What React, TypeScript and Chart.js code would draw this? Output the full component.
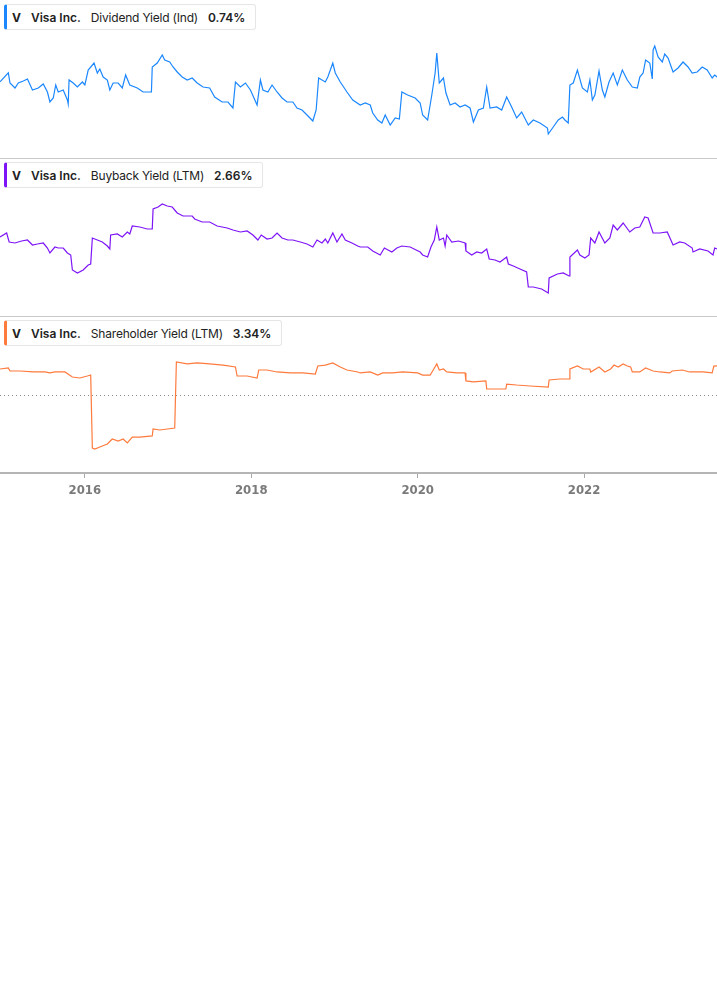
import React, { useEffect, useRef } from 'react';
import { Chart, registerables } from 'chart.js';

Chart.register(...registerables);

const X_MIN = 2014.98;
const X_MAX = 2023.598;
const tickYears = [2016, 2018, 2020, 2022];

const companyTicker = 'V';
const companyName = 'Visa Inc.';

// Dividend Yield (Ind), %
const divDates = [
  2014.98, 2015.08, 2015.10, 2015.16, 2015.20, 2015.26, 2015.31, 2015.37, 2015.44, 2015.50,
  2015.55, 2015.58, 2015.62, 2015.65, 2015.68, 2015.74, 2015.79, 2015.80, 2015.81, 2015.86,
  2015.91, 2015.97, 2016.00, 2016.04, 2016.11, 2016.15, 2016.18, 2016.22, 2016.27, 2016.30,
  2016.34, 2016.40, 2016.45, 2016.49, 2016.54, 2016.63, 2016.70, 2016.80, 2016.81, 2016.87,
  2016.93, 2016.96, 2017.02, 2017.06, 2017.11, 2017.17, 2017.23, 2017.29, 2017.35, 2017.42,
  2017.50, 2017.56, 2017.65, 2017.72, 2017.78, 2017.81, 2017.87, 2017.93, 2017.99, 2018.07,
  2018.11, 2018.14, 2018.20, 2018.25, 2018.31, 2018.37, 2018.43, 2018.50, 2018.55, 2018.61,
  2018.67, 2018.74, 2018.78, 2018.81, 2018.89, 2018.92, 2018.98, 2019.01, 2019.07, 2019.15,
  2019.22, 2019.31, 2019.37, 2019.43, 2019.46, 2019.52, 2019.57, 2019.61, 2019.67, 2019.73,
  2019.78, 2019.81, 2019.88, 2019.97, 2020.03, 2020.06, 2020.12, 2020.17, 2020.21, 2020.23,
  2020.26, 2020.31, 2020.34, 2020.39, 2020.45, 2020.51, 2020.57, 2020.63, 2020.67, 2020.73,
  2020.79, 2020.83, 2020.87, 2020.95, 2021.01, 2021.07, 2021.13, 2021.19, 2021.25, 2021.33,
  2021.39, 2021.47, 2021.56, 2021.57, 2021.63, 2021.69, 2021.74, 2021.77, 2021.81, 2021.83,
  2021.87, 2021.92, 2021.98, 2022.04, 2022.07, 2022.10, 2022.13, 2022.18, 2022.22, 2022.25,
  2022.30, 2022.35, 2022.40, 2022.46, 2022.52, 2022.58, 2022.64, 2022.67, 2022.71, 2022.74,
  2022.79, 2022.82, 2022.83, 2022.85, 2022.89, 2022.94, 2022.97, 2023.01, 2023.07, 2023.13,
  2023.19, 2023.25, 2023.30, 2023.36, 2023.42, 2023.48, 2023.54, 2023.57, 2023.60,
];
const divValues = [
  0.716, 0.761, 0.710, 0.685, 0.710, 0.720, 0.730, 0.675, 0.685, 0.705,
  0.665, 0.615, 0.635, 0.700, 0.665, 0.675, 0.625, 0.605, 0.725, 0.710,
  0.690, 0.715, 0.700, 0.775, 0.810, 0.760, 0.780, 0.740, 0.725, 0.675,
  0.710, 0.710, 0.685, 0.750, 0.700, 0.685, 0.665, 0.665, 0.790, 0.810,
  0.850, 0.825, 0.815, 0.790, 0.765, 0.740, 0.725, 0.735, 0.710, 0.690,
  0.685, 0.640, 0.615, 0.615, 0.585, 0.715, 0.690, 0.710, 0.675, 0.600,
  0.725, 0.675, 0.665, 0.700, 0.665, 0.635, 0.615, 0.615, 0.585, 0.575,
  0.550, 0.520, 0.575, 0.735, 0.715, 0.740, 0.810, 0.760, 0.715, 0.665,
  0.625, 0.600, 0.610, 0.600, 0.560, 0.525, 0.510, 0.550, 0.500, 0.535,
  0.530, 0.665, 0.650, 0.635, 0.610, 0.550, 0.525, 0.650, 0.760, 0.860,
  0.710, 0.735, 0.660, 0.600, 0.610, 0.590, 0.600, 0.585, 0.515, 0.575,
  0.585, 0.690, 0.585, 0.590, 0.575, 0.640, 0.590, 0.535, 0.565, 0.500,
  0.525, 0.510, 0.485, 0.455, 0.490, 0.525, 0.540, 0.525, 0.510, 0.700,
  0.710, 0.775, 0.685, 0.665, 0.725, 0.625, 0.650, 0.770, 0.675, 0.640,
  0.715, 0.760, 0.700, 0.775, 0.725, 0.690, 0.685, 0.740, 0.760, 0.825,
  0.810, 0.730, 0.875, 0.895, 0.840, 0.815, 0.855, 0.835, 0.765, 0.785,
  0.815, 0.790, 0.760, 0.765, 0.790, 0.775, 0.735, 0.750, 0.740,
];

// Buyback Yield (LTM), %
const buyDates = [
  2014.98, 2015.06, 2015.09, 2015.16, 2015.24, 2015.31, 2015.37, 2015.43, 2015.50, 2015.55,
  2015.58, 2015.64, 2015.68, 2015.74, 2015.79, 2015.83, 2015.85, 2015.91, 2015.98, 2016.04,
  2016.07, 2016.09, 2016.15, 2016.21, 2016.27, 2016.30, 2016.31, 2016.39, 2016.45, 2016.51,
  2016.54, 2016.57, 2016.66, 2016.75, 2016.81, 2016.82, 2016.88, 2016.93, 2016.99, 2017.05,
  2017.11, 2017.18, 2017.29, 2017.32, 2017.41, 2017.50, 2017.59, 2017.71, 2017.78, 2017.87,
  2017.95, 2018.02, 2018.08, 2018.12, 2018.19, 2018.25, 2018.31, 2018.37, 2018.44, 2018.50,
  2018.59, 2018.67, 2018.74, 2018.79, 2018.85, 2018.89, 2018.92, 2018.98, 2019.03, 2019.09,
  2019.13, 2019.21, 2019.28, 2019.31, 2019.40, 2019.46, 2019.55, 2019.60, 2019.69, 2019.75,
  2019.81, 2019.91, 2020.03, 2020.06, 2020.12, 2020.16, 2020.20, 2020.23, 2020.26, 2020.31,
  2020.33, 2020.35, 2020.41, 2020.49, 2020.57, 2020.58, 2020.65, 2020.71, 2020.77, 2020.83,
  2020.86, 2020.93, 2020.99, 2021.07, 2021.09, 2021.15, 2021.23, 2021.31, 2021.33, 2021.39,
  2021.49, 2021.57, 2021.58, 2021.68, 2021.75, 2021.82, 2021.83, 2021.92, 2021.95, 2022.01,
  2022.06, 2022.08, 2022.13, 2022.18, 2022.25, 2022.31, 2022.35, 2022.40, 2022.47, 2022.55,
  2022.61, 2022.67, 2022.73, 2022.77, 2022.83, 2022.91, 2023.00, 2023.07, 2023.15, 2023.21,
  2023.30, 2023.31, 2023.39, 2023.49, 2023.55, 2023.57, 2023.60,
];
const buyValues = [
  3.02, 3.14, 2.87, 2.84, 2.90, 2.93, 2.78, 2.81, 2.84, 2.69,
  2.54, 2.72, 2.69, 2.69, 2.54, 2.48, 2.03, 1.94, 2.03, 2.18,
  2.21, 2.99, 2.93, 2.87, 2.75, 2.66, 3.08, 3.11, 3.02, 3.17,
  3.11, 3.35, 3.32, 3.26, 3.26, 3.86, 3.92, 4.01, 3.95, 3.92,
  3.74, 3.65, 3.65, 3.56, 3.47, 3.47, 3.35, 3.29, 3.23, 3.17,
  3.20, 3.08, 2.93, 3.08, 2.96, 2.99, 3.14, 2.99, 2.93, 2.93,
  2.87, 2.81, 2.72, 2.93, 2.84, 2.96, 2.84, 3.14, 2.87, 3.11,
  2.93, 2.84, 2.75, 2.72, 2.72, 2.60, 2.48, 2.69, 2.57, 2.69,
  2.75, 2.72, 2.57, 2.48, 2.42, 2.72, 2.93, 3.32, 2.93, 2.99,
  2.75, 3.08, 2.87, 2.90, 2.84, 2.60, 2.48, 2.57, 2.54, 2.66,
  2.36, 2.33, 2.27, 2.42, 2.21, 2.15, 2.06, 1.97, 1.52, 1.52,
  1.46, 1.34, 1.79, 1.91, 1.94, 1.85, 2.42, 2.63, 2.48, 2.39,
  2.48, 2.99, 2.84, 3.17, 2.84, 2.99, 3.38, 3.23, 3.44, 3.17,
  3.29, 3.32, 3.62, 3.59, 3.14, 3.14, 3.17, 2.78, 2.87, 2.84,
  2.69, 2.57, 2.66, 2.60, 2.48, 2.69, 2.66,
];

// Shareholder Yield (LTM), %
const shDates = [
  2014.98, 2015.08, 2015.10, 2015.22, 2015.38, 2015.52, 2015.58, 2015.64, 2015.76, 2015.85,
  2015.94, 2016.03, 2016.07, 2016.09, 2016.12, 2016.18, 2016.27, 2016.33, 2016.40, 2016.46,
  2016.51, 2016.57, 2016.66, 2016.81, 2016.82, 2016.90, 2016.99, 2017.08, 2017.10, 2017.23,
  2017.35, 2017.50, 2017.66, 2017.81, 2017.83, 2017.95, 2018.07, 2018.09, 2018.19, 2018.31,
  2018.47, 2018.62, 2018.77, 2018.80, 2018.89, 2018.98, 2019.07, 2019.15, 2019.28, 2019.31,
  2019.43, 2019.52, 2019.58, 2019.70, 2019.82, 2020.00, 2020.06, 2020.15, 2020.18, 2020.23,
  2020.26, 2020.31, 2020.35, 2020.47, 2020.57, 2020.58, 2020.67, 2020.82, 2020.83, 2020.99,
  2021.06, 2021.07, 2021.19, 2021.35, 2021.57, 2021.58, 2021.71, 2021.82, 2021.83, 2021.92,
  2021.99, 2022.07, 2022.08, 2022.18, 2022.25, 2022.32, 2022.36, 2022.41, 2022.47, 2022.52,
  2022.56, 2022.58, 2022.67, 2022.74, 2022.83, 2022.91, 2023.03, 2023.06, 2023.18, 2023.27,
  2023.43, 2023.54, 2023.56, 2023.60,
];
const shValues = [
  3.00, 3.11, 2.78, 2.78, 2.67, 2.67, 2.56, 2.67, 2.67, 2.11,
  2.00, 2.22, 2.33, -5.78, -5.89, -5.67, -5.33, -4.78, -5.00, -4.78,
  -5.22, -4.56, -4.56, -4.44, -3.67, -3.78, -3.67, -3.56, 3.78, 3.56,
  3.67, 3.56, 3.44, 3.22, 2.22, 2.22, 2.00, 2.89, 2.89, 2.67,
  2.56, 2.56, 2.44, 3.33, 3.44, 3.67, 3.22, 2.89, 2.67, 2.56,
  2.67, 2.33, 2.56, 2.56, 2.67, 2.56, 2.33, 2.33, 2.78, 3.56,
  2.89, 3.00, 2.67, 2.56, 2.56, 1.67, 1.56, 1.67, 0.78, 0.78,
  0.78, 1.33, 1.22, 1.11, 1.00, 1.78, 1.89, 1.89, 3.00, 3.33,
  3.00, 3.00, 2.67, 3.22, 2.67, 3.00, 3.44, 3.22, 3.56, 3.33,
  3.22, 2.67, 2.67, 3.11, 2.78, 2.67, 2.56, 2.78, 2.89, 2.67,
  2.67, 2.56, 3.33, 3.34,
];

const panels = [
  { metric: 'Dividend Yield (Ind)', value: '0.74%', color: '#1a87ff', dates: divDates, values: divValues, top: 0, yMin: 0.335, yMax: 1.125, zero: false, xAxis: false },
  { metric: 'Buyback Yield (LTM)', value: '2.66%', color: '#7d14f7', dates: buyDates, values: buyValues, top: 158, yMin: 0.65, yMax: 5.39, zero: false, xAxis: false },
  { metric: 'Shareholder Yield (LTM)', value: '3.34%', color: '#ff7a3d', dates: shDates, values: shValues, top: 316, yMin: -8.556, yMax: 8.889, zero: true, xAxis: true },
];

const PLOT_H = [158, 158, 157];
const AXIS_H = 36;

function Panel({ p, idx }: { p: any; idx: number }) {
  const ref = useRef<HTMLCanvasElement | null>(null);
  const h = PLOT_H[idx] + (p.xAxis ? AXIS_H : 0);
  useEffect(() => {
    if (!ref.current) return;
    const xScale: any = {
      type: 'linear',
      min: X_MIN,
      max: X_MAX,
      display: p.xAxis,
    };
    if (p.xAxis) {
      Object.assign(xScale, {
        afterBuildTicks: (s: any) => {
          s.ticks = tickYears.map((v) => ({ value: v }));
        },
        afterFit: (s: any) => {
          s.height = AXIS_H;
        },
        border: { display: true, color: '#b5b5b5', width: 2 },
        grid: { drawOnChartArea: false, drawTicks: true, tickLength: 5, color: '#a8a8a8' },
        ticks: {
          autoSkip: false,
          maxRotation: 0,
          padding: 5,
          color: '#7a7a7a',
          font: { family: "'DejaVu Sans Condensed', 'DejaVu Sans', sans-serif", size: 13, weight: 'bold' },
          callback: (v: any) => String(v),
        },
      });
    }
    const yScale: any = {
      type: 'linear',
      min: p.yMin,
      max: p.yMax,
      display: p.zero,
    };
    if (p.zero) {
      Object.assign(yScale, {
        afterBuildTicks: (s: any) => {
          s.ticks = [{ value: 0 }];
        },
        afterFit: (s: any) => {
          s.width = 0;
        },
        border: { display: false, dash: [1, 3] },
        grid: { drawOnChartArea: true, drawTicks: false, color: '#8f8f8f', lineWidth: 1 },
        ticks: { display: false },
      });
    }
    const chart = new Chart(ref.current, {
      type: 'line',
      data: {
        datasets: [
          {
            data: p.dates.map((d: number, i: number) => ({ x: d, y: p.values[i] })),
            borderColor: p.color,
            borderWidth: 1.2,
            pointRadius: 0,
            tension: 0,
            fill: false,
          },
        ],
      },
      options: {
        animation: false,
        responsive: false,
        devicePixelRatio: 1,
        events: [],
        layout: { padding: 0 },
        plugins: { legend: { display: false }, tooltip: { enabled: false } },
        scales: { x: xScale, y: yScale },
      } as any,
    });
    return () => chart.destroy();
  }, []);
  return (
    <canvas
      ref={ref}
      width={717}
      height={h}
      style={{ position: 'absolute', left: 0, top: p.top, width: 717, height: h }}
    />
  );
}

function LegendBox({ p }: { p: any }) {
  return (
    <div
      style={{
        position: 'absolute',
        left: 4,
        top: p.top + 4,
        height: 24,
        display: 'flex',
        alignItems: 'center',
        gap: 10,
        padding: '0 10px 0 5px',
        background: '#ffffff',
        border: '1px solid #e6e6e6',
        borderLeft: `3px solid ${p.color}`,
        borderRadius: 3,
        fontFamily: 'Inter, "Noto Sans", sans-serif',
        fontSize: 12,
        color: '#222222',
        whiteSpace: 'nowrap',
        zIndex: 2,
      }}
    >
      <span style={{ fontWeight: 700 }}>{companyTicker}</span>
      <span style={{ fontWeight: 600 }}>{companyName}</span>
      <span style={{ fontWeight: 400, letterSpacing: '-0.2px' }}>{p.metric}</span>
      <span style={{ fontWeight: 600 }}>{p.value}</span>
    </div>
  );
}

export default function App() {
  return (
    <div style={{ position: 'absolute', left: 0, top: 0, width: 717, height: 520, background: '#fff' }}>
      {panels.map((p, i) => (
        <Panel key={i} p={p} idx={i} />
      ))}
      <div style={{ position: 'absolute', left: 0, top: 158, width: 717, height: 1, background: '#c9c9c9', zIndex: 1 }} />
      <div style={{ position: 'absolute', left: 0, top: 316, width: 717, height: 1, background: '#c9c9c9', zIndex: 1 }} />
      {panels.map((p, i) => (
        <LegendBox key={'l' + i} p={p} />
      ))}
    </div>
  );
}
